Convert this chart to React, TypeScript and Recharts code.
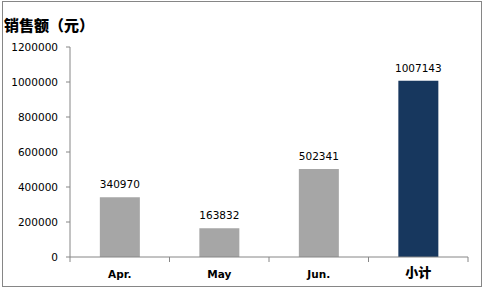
import { BarChart, Bar, XAxis, YAxis, Cell, LabelList } from 'recharts';

const categories = ['Apr.', 'May', 'Jun.', '小计'];
const sales = [340970, 163832, 502341, 1007143];
const barColors = ['#a6a6a6', '#a6a6a6', '#a6a6a6', '#17375e'];
const yTicks = [0, 200000, 400000, 600000, 800000, 1000000, 1200000];

const data = categories.map((name, i) => ({ name, value: sales[i] }));

const axisGray = '#868686';
const font = '"DejaVu Sans", Tahoma, sans-serif';

// category labels plus Excel-style tick marks on the band edges
const CategoryTick = (props: any) => {
  const { x, y, payload, index } = props;
  const half = payload.offset || 0;
  const axisY = y - 10;
  const cjk = /[\u4e00-\u9fff]/.test(payload.value);
  const last = index === categories.length - 1;
  return (
    <g>
      <line x1={x - half} x2={x - half} y1={axisY} y2={axisY + 5} stroke={axisGray} />
      {last && <line x1={x + half} x2={x + half} y1={axisY} y2={axisY + 5} stroke={axisGray} />}
      <text
        x={x}
        y={y + (cjk ? 6 : 8)}
        textAnchor="middle"
        dominantBaseline="middle"
        fontFamily={cjk ? '"Noto Sans CJK SC", sans-serif' : font}
        fontSize={cjk ? 13 : 10.5}
        fontWeight={cjk ? 900 : 'bold'}
        fill="#000"
      >
        {payload.value}
      </text>
    </g>
  );
};

export default function App() {
  return (
    <div style={{ position: 'absolute', left: 0, top: 0, width: 487, height: 296, background: '#fff' }}>
      <div
        style={{
          position: 'absolute',
          left: 2,
          top: 1,
          width: 480,
          height: 286,
          border: `1px solid ${axisGray}`,
          boxSizing: 'border-box',
        }}
      />
      <div
        style={{
          position: 'absolute',
          left: 4,
          top: 15,
          fontFamily: '"Noto Sans CJK SC", sans-serif',
          fontSize: 15,
          fontWeight: 900,
          lineHeight: '20px',
          color: '#000',
        }}
      >
        销售额（元）
      </div>
      <BarChart
        width={487}
        height={296}
        data={data}
        margin={{ top: 47, right: 19, left: 0, bottom: 9 }}
        barCategoryGap="30%"
      >
        <XAxis
          dataKey="name"
          height={30}
          axisLine={{ stroke: axisGray }}
          tickLine={false}
          tickSize={0}
          tickMargin={10}
          interval={0}
          tick={<CategoryTick />}
        />
        <YAxis
          width={70}
          domain={[0, 1200000]}
          ticks={yTicks}
          interval={0}
          axisLine={{ stroke: axisGray }}
          tickLine={{ stroke: axisGray }}
          tickSize={4}
          tickMargin={8}
          tick={{ fill: '#000', fontSize: 10.5, fontFamily: font }}
        />
        <Bar dataKey="value" isAnimationActive={false}>
          {data.map((d, i) => (
            <Cell key={d.name} fill={barColors[i]} />
          ))}
          <LabelList
            dataKey="value"
            position="top"
            offset={9}
            fill="#000"
            fontSize={10.5}
            fontFamily={font}
          />
        </Bar>
      </BarChart>
    </div>
  );
}
